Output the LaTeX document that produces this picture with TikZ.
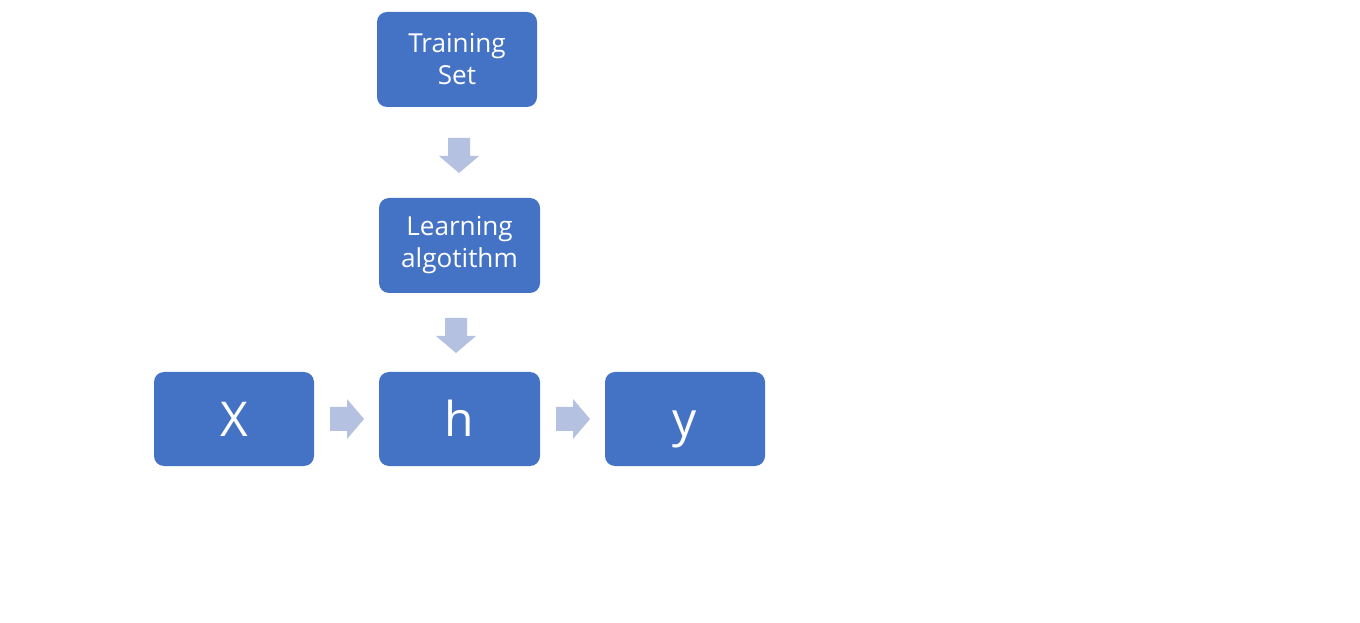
\documentclass[tikz,border=0pt]{standalone}
\usepackage{fontspec}
\setmainfont{Open Sans}
\definecolor{boxblue}{HTML}{4472C4}
\definecolor{arrowblue}{HTML}{B4C1E1}
\tikzset{
  blockbox/.style={fill=boxblue, draw=none, rounded corners=7.5pt, text=white, align=center, inner sep=0pt},
  smalltext/.style={font=\fontsize{19.6}{24}\selectfont},
  bigtext/.style={font=\fontsize{36}{43}\selectfont, text height=27pt, text depth=1.5pt},
  downarr/.pic={\fill[arrowblue] (-11,0) -- (11,0) -- (11,18) -- (20,18) -- (0,35) -- (-20,18) -- (-11,18) -- cycle;},
  rightarr/.pic={\fill[arrowblue] (0,-12) -- (17,-12) -- (17,-20) -- (34,0) -- (17,20) -- (17,12) -- (0,12) -- cycle;}
}
\begin{document}
\begin{tikzpicture}[x=0.75pt,y=-0.75pt]
\useasboundingbox[fill=white] (0,0) rectangle (1360,623);
\node[blockbox, smalltext, minimum width=120pt, minimum height=71.25pt] (ts) at (457,59.5) {Training\\Set};
\node[blockbox, smalltext, minimum width=120.75pt, minimum height=71.25pt] (la) at (459.5,245.5) {Learning\\algotithm};
\node[blockbox, bigtext, minimum width=120pt, minimum height=70.5pt] (x) at (234,419) {X};
\node[blockbox, bigtext, minimum width=120.75pt, minimum height=70.5pt] (h) at (459.5,419) {h};
\node[blockbox, bigtext, minimum width=120pt, minimum height=70.5pt] (y) at (685,419) {y};
\pic at (459,138) {downarr};
\pic at (456,318) {downarr};
\pic at (330,419) {rightarr};
\pic at (556,419) {rightarr};
\end{tikzpicture}
\end{document}
